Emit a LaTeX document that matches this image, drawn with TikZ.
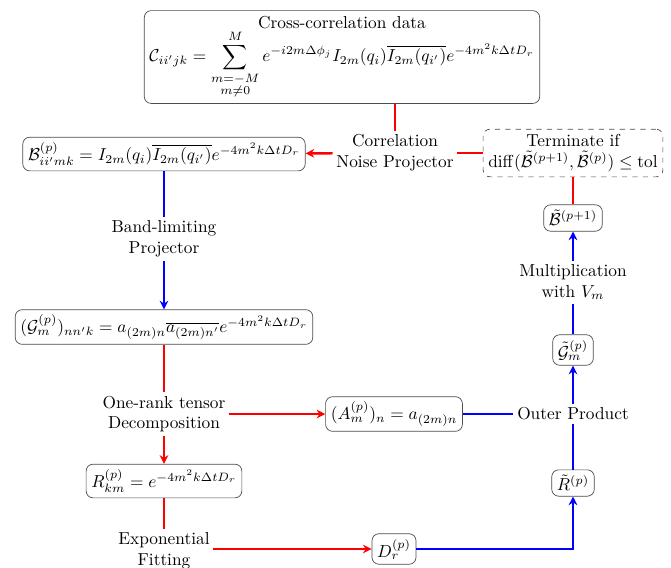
\documentclass[tikz,border=0pt]{standalone}
\usepackage{amssymb}
\usepackage{amsmath}
\usepackage{tikz}
\usetikzlibrary{arrows.meta,calc}
\tikzset{
  box/.style={draw=black!70, rounded corners=4pt, fill=white, inner sep=3pt, align=center},
  stage/.style={align=center, inner sep=2pt},
  redline/.style={red, line width=1.4pt},
  blueline/.style={blue, line width=1.4pt},
  >={Stealth[length=5pt,width=5pt]}
}
\begin{document}
\begin{tikzpicture}[x=0.0203cm,y=-0.0203cm]
\useasboundingbox (0,0) rectangle (671,567);
% boxes
\node[box] (data) at (342,57) {Cross-correlation data\\
$\displaystyle\mathcal{C}_{ii'jk}=\sum_{\substack{m=-M\\ m\neq 0}}^{M} e^{-i2m\Delta\phi_j} I_{2m}(q_i)\overline{I_{2m}(q_{i'})}e^{-4m^2k\Delta tD_r}$};
\node[stage] (noise) at (395,153) {Correlation\\Noise Projector};
\node[box] (B) at (164,154) {$\mathcal{B}^{(p)}_{ii'mk}=I_{2m}(q_i)\overline{I_{2m}(q_{i'})}e^{-4m^2k\Delta tD_r}$};
\node[box, dashed] (stop) at (573,153) {Terminate if\\ $\mathrm{diff}(\tilde{\mathcal{B}}^{(p+1)},\tilde{\mathcal{B}}^{(p)})\leq \mathrm{tol}$};
\node[stage] (band) at (164,239) {Band-limiting\\Projector};
\node[box] (G) at (164,327) {$(\mathcal{G}^{(p)}_m)_{nn'k}=a_{(2m)n}\overline{a_{(2m)n'}}e^{-4m^2k\Delta tD_r}$};
\node[stage] (rank) at (164,414) {One-rank tensor\\Decomposition};
\node[box] (A) at (394,414) {$(A^{(p)}_m)_n=a_{(2m)n}$};
\node[box] (R) at (164,481) {$R^{(p)}_{km}=e^{-4m^2k\Delta tD_r}$};
\node[stage] (fit) at (164,551) {Exponential\\Fitting};
\node[box] (D) at (394,549) {$D^{(p)}_r$};
\node[box] (Rt) at (573,483) {$\tilde{R}^{(p)}$};
\node[stage] (outer) at (573,414) {Outer Product};
\node[box] (Gt) at (573,350) {$\tilde{\mathcal{G}}^{(p)}_m$};
\node[stage] (mult) at (573,282) {Multiplication\\with $V_m$};
\node[box] (Bt) at (573,218) {$\tilde{\mathcal{B}}^{(p+1)}$};
% red connectors
\draw[redline] (data.south -| noise) -- (noise);
\draw[redline,->] (noise) -- (B);
\draw[redline] (stop) -- (noise);
\draw[redline] (stop) -- (Bt);
\draw[redline] (G) -- (rank);
\draw[redline,->] (rank) -- (R);
\draw[redline,->] (rank) -- (A);
\draw[redline] (R) -- (fit);
\draw[redline,->] (fit.east |- D) -- (D);
% blue connectors
\draw[blueline] (B) -- (band);
\draw[blueline,->] (band) -- (G);
\draw[blueline] (A) -- (outer);
\draw[blueline] (Rt) -- (outer);
\draw[blueline,->] (outer) -- (Gt);
\draw[blueline] (Gt) -- (mult);
\draw[blueline,->] (mult) -- (Bt);
\draw[blueline,->] (D) -| (Rt);
\end{tikzpicture}
\end{document}
